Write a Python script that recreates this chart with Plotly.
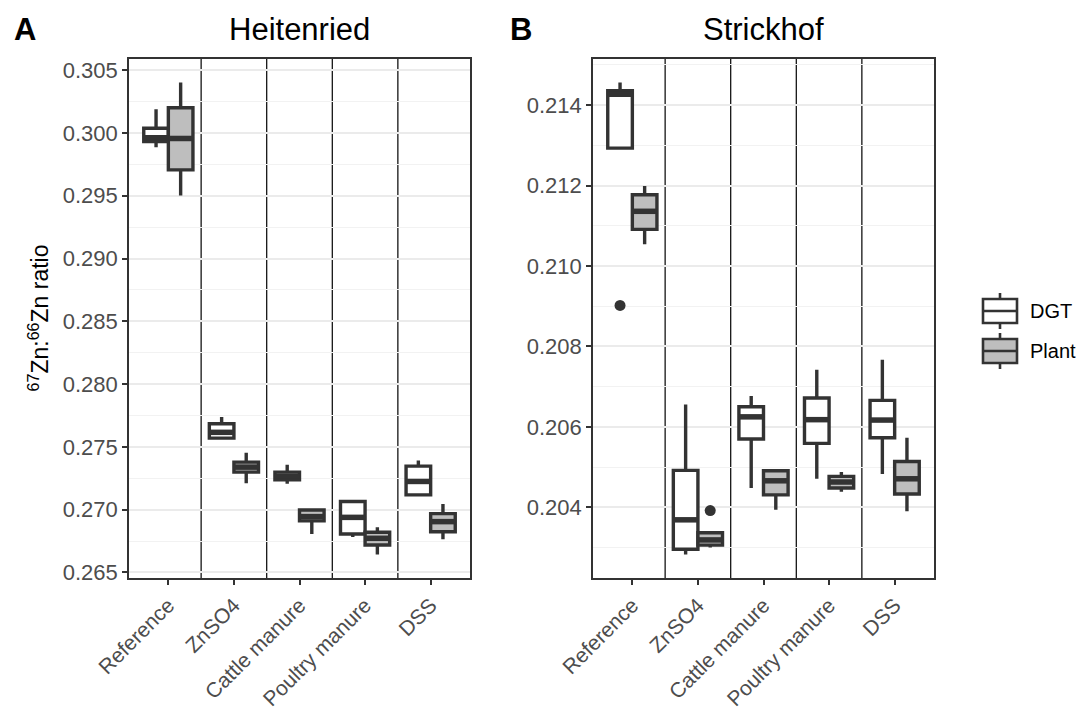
import plotly.graph_objects as go

# ---------------- data ----------------
categories = ["Reference", "ZnSO4", "Cattle manure", "Poultry manure", "DSS"]
groups = ["DGT", "Plant"]

# Heitenried (panel A)
heit_dgt_lower = [0.29887, 0.27570, 0.27206, 0.26783, 0.27110]
heit_dgt_q1    = [0.29932, 0.27570, 0.27238, 0.26807, 0.27118]
heit_dgt_med   = [0.29962, 0.27616, 0.27267, 0.26939, 0.27225]
heit_dgt_q3    = [0.30038, 0.27685, 0.27299, 0.27065, 0.27347]
heit_dgt_upper = [0.30188, 0.27738, 0.27358, 0.27070, 0.27392]

heit_plant_lower = [0.29501, 0.27211, 0.26807, 0.26644, 0.26764]
heit_plant_q1    = [0.29706, 0.27299, 0.26911, 0.26719, 0.26825]
heit_plant_med   = [0.29956, 0.27339, 0.26945, 0.26772, 0.26905]
heit_plant_q3    = [0.30201, 0.27379, 0.26998, 0.26820, 0.26969]
heit_plant_upper = [0.30401, 0.27454, 0.27003, 0.26860, 0.27046]

heit_out_cats = []
heit_out_groups = []
heit_out_values = []

# Strickhof (panel B)
strick_dgt_lower = [0.21293, 0.20283, 0.20448, 0.20471, 0.20483]
strick_dgt_q1    = [0.21293, 0.20296, 0.20570, 0.20559, 0.20573]
strick_dgt_med   = [0.21427, 0.20369, 0.20625, 0.20618, 0.20617]
strick_dgt_q3    = [0.21436, 0.20492, 0.20650, 0.20672, 0.20666]
strick_dgt_upper = [0.21456, 0.20656, 0.20677, 0.20742, 0.20767]

strick_plant_lower = [0.21054, 0.20300, 0.20394, 0.20439, 0.20390]
strick_plant_q1    = [0.21091, 0.20306, 0.20431, 0.20448, 0.20433]
strick_plant_med   = [0.21136, 0.20319, 0.20466, 0.20463, 0.20471]
strick_plant_q3    = [0.21177, 0.20337, 0.20491, 0.20477, 0.20514]
strick_plant_upper = [0.21199, 0.20340, 0.20491, 0.20488, 0.20573]

strick_out_cats = ["Reference", "ZnSO4"]
strick_out_groups = ["DGT", "Plant"]
strick_out_values = [0.20902, 0.20392]

heit_ticks = [0.265, 0.270, 0.275, 0.280, 0.285, 0.290, 0.295, 0.300, 0.305]
strick_ticks = [0.204, 0.206, 0.208, 0.210, 0.212, 0.214]

# ---------------- style ----------------
FILL = {"DGT": "#FFFFFF", "Plant": "#BEBEBE"}
LINE = "#333333"
FONT = "Liberation Sans, Arial, Helvetica, sans-serif"
BOXW = 0.375
OFFSET = {"DGT": -0.1875, "Plant": 0.1875}
LW = 2.6
BOX_LW = 3.4

W, H = 1086, 713
px = lambda v: v / W
py = lambda v: 1 - v / H

fig = go.Figure()

panels = [
    dict(xa="x", ya="y",
         stats={"DGT": (heit_dgt_lower, heit_dgt_q1, heit_dgt_med, heit_dgt_q3, heit_dgt_upper),
                "Plant": (heit_plant_lower, heit_plant_q1, heit_plant_med, heit_plant_q3, heit_plant_upper)},
         outs=(heit_out_cats, heit_out_groups, heit_out_values)),
    dict(xa="x2", ya="y2",
         stats={"DGT": (strick_dgt_lower, strick_dgt_q1, strick_dgt_med, strick_dgt_q3, strick_dgt_upper),
                "Plant": (strick_plant_lower, strick_plant_q1, strick_plant_med, strick_plant_q3, strick_plant_upper)},
         outs=(strick_out_cats, strick_out_groups, strick_out_values)),
]

ranges = []
for p in panels:
    allv = []
    for g in groups:
        lo, q1, md, q3, up = p["stats"][g]
        allv += lo + up
        pos = [i + 1 + OFFSET[g] for i in range(len(categories))]
        fig.add_trace(go.Box(
            x=pos, q1=q1, median=md, q3=q3, lowerfence=lo, upperfence=up,
            width=BOXW, whiskerwidth=0, boxpoints=False,
            fillcolor=FILL[g], line=dict(color=LINE, width=BOX_LW),
            name=g, showlegend=False,
            xaxis=p["xa"], yaxis=p["ya"], hoverinfo="skip"))
        # thick median line (ggplot fatten)
        mx, my = [], []
        for x0, m in zip(pos, md):
            mx += [x0 - BOXW / 2, x0 + BOXW / 2, None]
            my += [m, m, None]
        fig.add_trace(go.Scatter(x=mx, y=my, mode="lines",
                                 line=dict(color=LINE, width=5.5),
                                 showlegend=False, hoverinfo="skip",
                                 xaxis=p["xa"], yaxis=p["ya"]))
    oc, og, ov = p["outs"]
    allv += ov
    if ov:
        fig.add_trace(go.Scatter(
            x=[categories.index(c) + 1 + OFFSET[g] for c, g in zip(oc, og)], y=ov,
            mode="markers", marker=dict(color=LINE, size=11),
            showlegend=False, hoverinfo="skip", xaxis=p["xa"], yaxis=p["ya"]))
    lo_, hi_ = min(allv), max(allv)
    pad = 0.05 * (hi_ - lo_)
    ranges.append([lo_ - pad, hi_ + pad])

# separator lines between categories
for xa in ["x", "x2"]:
    for i in range(1, len(categories)):
        fig.add_shape(type="line", xref=xa, yref=("y domain" if xa == "x" else "y2 domain"),
                      x0=i + 0.5, x1=i + 0.5, y0=0, y1=1,
                      line=dict(color="#000000", width=1.2), layer="below")

xdom1 = [px(129), px(470)]
xdom2 = [px(593), px(934)]
ydom = [py(578), py(59)]

xcommon = dict(range=[0.4, 5.6], tickmode="array",
               tickvals=list(range(1, len(categories) + 1)), ticktext=categories,
               tickangle=-45, showgrid=False, zeroline=False,
               showline=True, mirror=True, linecolor=LINE, linewidth=1.6,
               ticks="outside", ticklen=5, tickwidth=1.6, tickcolor=LINE,
               tickfont=dict(family=FONT, size=21, color="#4D4D4D"),
               automargin=False)
ycommon = dict(showgrid=True, gridcolor="#EBEBEB", gridwidth=1.5, zeroline=False,
               showline=True, mirror=True, linecolor=LINE, linewidth=1.6,
               ticks="outside", ticklen=5, tickwidth=1.6, tickcolor=LINE,
               tickfont=dict(family=FONT, size=22, color="#4D4D4D"),
               automargin=False)

fig.update_layout(
    width=W, height=H,
    margin=dict(l=0, r=0, t=0, b=0),
    paper_bgcolor="white", plot_bgcolor="white",
    boxmode="overlay", showlegend=False,
    xaxis=dict(domain=xdom1, anchor="y", **xcommon),
    xaxis2=dict(domain=xdom2, anchor="y2", **xcommon),
    yaxis=dict(domain=ydom, anchor="x", range=ranges[0], tickvals=heit_ticks,
               tickformat=".3f",
               minor=dict(showgrid=True, gridcolor="#F2F2F2", gridwidth=0.8,
                          tick0=heit_ticks[0], dtick=(heit_ticks[1] - heit_ticks[0]) / 2),
               **ycommon),
    yaxis2=dict(domain=ydom, anchor="x2", range=ranges[1], tickvals=strick_ticks,
                tickformat=".3f",
                minor=dict(showgrid=True, gridcolor="#F2F2F2", gridwidth=0.8,
                           tick0=strick_ticks[0], dtick=(strick_ticks[1] - strick_ticks[0]) / 2),
                **ycommon),
    font=dict(family=FONT),
)

# legend (ggplot-style keys)
for k, g in enumerate(groups):
    cy = 311 + 40 * k
    cx0, cx1 = 983, 1017
    fig.add_shape(type="line", xref="paper", yref="paper",
                  x0=px((cx0 + cx1) / 2), x1=px((cx0 + cx1) / 2), y0=py(cy - 18), y1=py(cy + 18),
                  line=dict(color=LINE, width=LW))
    fig.add_shape(type="rect", xref="paper", yref="paper",
                  x0=px(cx0), x1=px(cx1), y0=py(cy - 12), y1=py(cy + 12),
                  fillcolor=FILL[g], line=dict(color=LINE, width=LW))
    fig.add_shape(type="line", xref="paper", yref="paper",
                  x0=px(cx0), x1=px(cx1), y0=py(cy), y1=py(cy),
                  line=dict(color=LINE, width=LW))
    fig.add_annotation(text=g, x=px(1028), y=py(cy), xref="paper", yref="paper",
                       xanchor="left", yanchor="middle", showarrow=False,
                       font=dict(family=FONT, size=20, color="black"))

for txt, dom in [("Heitenried", xdom1), ("Strickhof", xdom2)]:
    fig.add_annotation(text=txt, x=(dom[0] + dom[1]) / 2, y=py(30), xref="paper", yref="paper",
                       xanchor="center", yanchor="middle", showarrow=False,
                       font=dict(family=FONT, size=31, color="black"))
for lab, xx in [("A", 12), ("B", 508)]:
    fig.add_annotation(text="<b>%s</b>" % lab, x=px(xx), y=py(30), xref="paper", yref="paper",
                       xanchor="left", yanchor="middle", showarrow=False,
                       font=dict(family=FONT, size=31, color="black"))
fig.add_annotation(text="<sup>67</sup>Zn:<sup>66</sup>Zn ratio", textangle=-90,
                   x=px(38), y=(ydom[0] + ydom[1]) / 2, xref="paper", yref="paper",
                   xanchor="center", yanchor="middle", showarrow=False,
                   font=dict(family=FONT, size=23, color="black"))

fig.write_html("out.html")
